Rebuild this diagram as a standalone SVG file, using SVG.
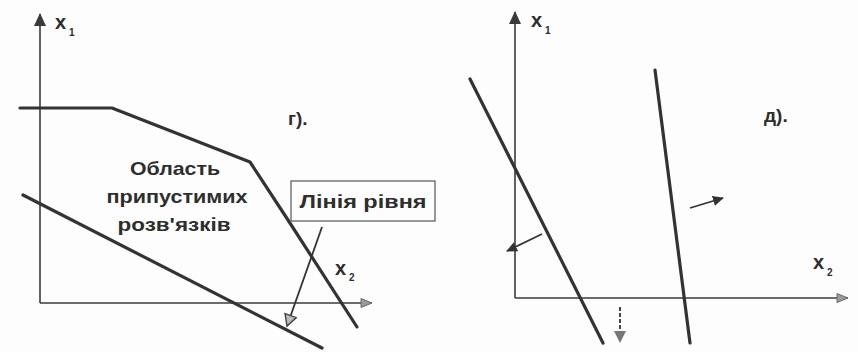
<svg xmlns="http://www.w3.org/2000/svg" width="858" height="352" viewBox="0 0 858 352">
<style>
.axis{stroke:#3a3a3a;stroke-width:1.6;fill:none}
.thick{stroke:#333;stroke-width:3.2;fill:none;stroke-linecap:round;stroke-linejoin:round}
.thin{stroke:#333;stroke-width:1.8;fill:none}
.lbl{font-family:"Liberation Sans",Arial,sans-serif;font-weight:bold;fill:#2e2e2e}
.big{font-size:20px}
.sub{font-size:10px}
.txt{font-size:19px}
</style>
<defs>
<marker id="fillArrow" markerWidth="14" markerHeight="14" refX="12" refY="7" orient="auto" markerUnits="userSpaceOnUse">
<path d="M0,1 L13,7 L0,13 Z" fill="#3a3a3a"/>
</marker>
<marker id="openArrow" markerWidth="14" markerHeight="12" refX="12" refY="6" orient="auto" markerUnits="userSpaceOnUse">
<path d="M1,1.5 L12,6 L1,10.5 Z" fill="#9a9a9a" stroke="#6a6a6a" stroke-width="1"/>
</marker>
<marker id="openTri" markerWidth="14" markerHeight="14" refX="12" refY="7" orient="auto" markerUnits="userSpaceOnUse">
<path d="M1,1 L12,7 L1,13 Z" fill="#bbb" stroke="#444" stroke-width="1.4"/>
</marker>
<marker id="smallFill" markerWidth="12" markerHeight="12" refX="10" refY="6" orient="auto" markerUnits="userSpaceOnUse">
<path d="M0,1 L11,6 L0,11 Z" fill="#333"/>
</marker>
<marker id="grayFill" markerWidth="14" markerHeight="14" refX="12" refY="7" orient="auto" markerUnits="userSpaceOnUse">
<path d="M0,1 L12,7 L0,13 Z" fill="#777"/>
</marker>
</defs>
<rect width="858" height="352" fill="#fdfdfd"/>
<g id="connectors">
<line class="axis" x1="40" y1="303" x2="40" y2="14" marker-end="url(#fillArrow)"/>
<line class="axis" x1="40" y1="303" x2="372" y2="303" marker-end="url(#openArrow)"/>
<polyline class="thick" points="20,108 112,108 250,162 288,220 357,327"/>
<line class="thick" x1="23" y1="195" x2="322" y2="348"/>
<line class="thin" x1="322" y1="227" x2="287" y2="326" marker-end="url(#openTri)"/>
<line class="axis" x1="515" y1="298" x2="515" y2="12" marker-end="url(#fillArrow)"/>
<line class="axis" x1="515" y1="298" x2="848" y2="298" marker-end="url(#openArrow)"/>
<line class="thick" x1="470" y1="79" x2="603" y2="343"/>
<line class="thick" x1="655" y1="70" x2="690" y2="343"/>
<line class="thin" x1="542" y1="234" x2="507" y2="251" marker-end="url(#smallFill)"/>
<line class="thin" x1="690" y1="208" x2="723" y2="198" marker-end="url(#smallFill)"/>
<line class="thin" x1="620" y1="307" x2="620" y2="343" stroke-dasharray="4,2" marker-end="url(#grayFill)"/>
</g>
<g id="label-x1-left"><text class="lbl big" x="55" y="29">x</text><text class="lbl sub" x="69" y="36">1</text></g>
<g id="label-x2-left"><text class="lbl big" x="335" y="275">x</text><text class="lbl sub" x="349" y="281">2</text></g>
<g id="label-g"><text class="lbl txt" x="288" y="125">г).</text></g>
<g id="region">
<text class="lbl txt" x="175" y="175" text-anchor="middle" textLength="90" lengthAdjust="spacingAndGlyphs">Область</text>
<text class="lbl txt" x="177" y="203" text-anchor="middle" textLength="141" lengthAdjust="spacingAndGlyphs">припустимих</text>
<text class="lbl txt" x="174" y="231" text-anchor="middle" textLength="113" lengthAdjust="spacingAndGlyphs">розв'язків</text>
</g>
<g id="level-box">
<rect x="291" y="181" width="144" height="40" fill="#fdfdfd" stroke="#555" stroke-width="1.2"/>
<text class="lbl txt" x="363" y="208" text-anchor="middle" textLength="127" lengthAdjust="spacingAndGlyphs">Лінія рівня</text>
</g>
<g id="label-x1-right"><text class="lbl big" x="531" y="27">x</text><text class="lbl sub" x="545" y="34">1</text></g>
<g id="label-x2-right"><text class="lbl big" x="813" y="269">x</text><text class="lbl sub" x="827" y="276">2</text></g>
<g id="label-d"><text class="lbl txt" x="764" y="122">д).</text></g>
</svg>
